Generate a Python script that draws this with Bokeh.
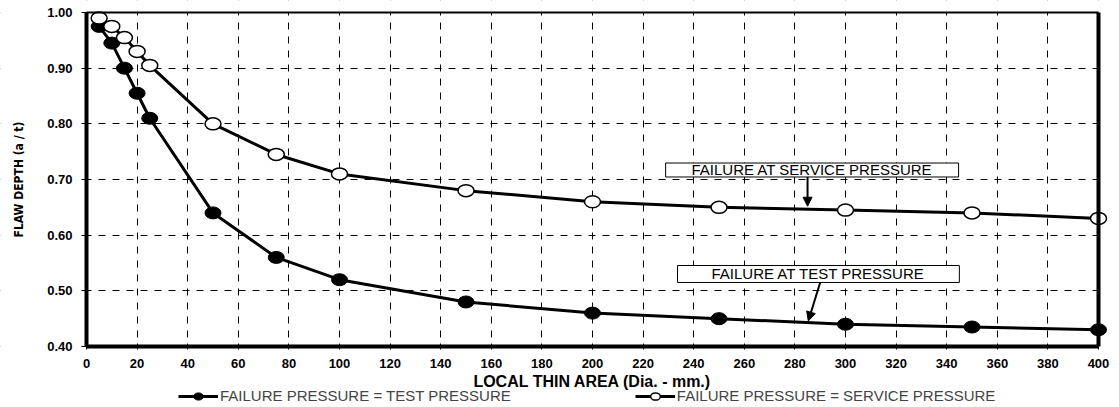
import math
from bokeh.plotting import figure
from bokeh.models import (Legend, LegendItem, BoxAnnotation, Label, Arrow, NormalHead,
                          FixedTicker, NumeralTickFormatter, Range1d, LinearAxis)
from bokeh.embed import file_html
from bokeh.resources import INLINE

# ---- data ----
dia = [5, 10, 15, 20, 25, 50, 75, 100, 150, 200, 250, 300, 350, 400]
test_depth = [0.975, 0.945, 0.90, 0.855, 0.81, 0.64, 0.56, 0.52, 0.48, 0.46, 0.45, 0.44, 0.435, 0.43]
service_depth = [0.99, 0.975, 0.955, 0.93, 0.905, 0.80, 0.745, 0.71, 0.68, 0.66, 0.65, 0.645, 0.64, 0.63]
x_ticks = list(range(0, 401, 20))
y_ticks = [0.40, 0.50, 0.60, 0.70, 0.80, 0.90, 1.00]
legend_labels = ["FAILURE PRESSURE = TEST PRESSURE", "FAILURE PRESSURE = SERVICE PRESSURE"]
note_service = "FAILURE AT SERVICE PRESSURE"
note_test = "FAILURE AT TEST PRESSURE"
x_title = "LOCAL THIN AREA (Dia. - mm.)"
y_title = "FLAW DEPTH (a / t)"

FONT = "Liberation Sans"
NARROW = "DejaVu Sans Condensed, Liberation Sans, sans-serif"

# ---- layout: the frame fills the canvas; the plotting box sits inside it ----
W, H = 1119, 407
PX_L, PX_R, PX_T, PX_B = 86, 1098, 12, 346      # pixel edges of the plotting box
X0, X1, Y0, Y1 = 0, 400, 0.40, 1.00
sx = (PX_R - PX_L) / (X1 - X0)
sy = (PX_B - PX_T) / (Y1 - Y0)
xr = Range1d(X0 - PX_L / sx, X1 + (W - PX_R) / sx)
yr = Range1d(Y0 - (H - PX_B) / sy, Y1 + PX_T / sy)

p = figure(frame_width=W, frame_height=H, x_range=xr, y_range=yr,
           output_backend="svg", toolbar_location=None,
           x_axis_location=None, y_axis_location=None,
           min_border=0, background_fill_color="white", border_fill_color="white")
p.outline_line_color = None

# grid (only inside the plotting box; white covers hide the rest)
p.xgrid.ticker = FixedTicker(ticks=x_ticks)
p.ygrid.ticker = FixedTicker(ticks=y_ticks)
for g in (p.xgrid, p.ygrid):
    g.grid_line_color = "black"
    g.grid_line_dash = "7 7"
    g.grid_line_width = 1
for kw in (dict(top=Y0), dict(bottom=Y1), dict(right=X0), dict(left=X1)):
    p.add_layout(BoxAnnotation(fill_color="white", fill_alpha=1, line_color=None,
                               level="underlay", **kw))

def style(ax):
    ax.axis_line_color = "black"
    ax.major_tick_line_color = "black"
    ax.major_tick_line_width = 1
    ax.minor_tick_line_color = None
    ax.major_label_text_font = FONT
    ax.major_label_text_font_style = "bold"
    ax.major_label_text_font_size = "13px"
    ax.major_label_text_color = "black"

xaxis = LinearAxis(fixed_location=Y0, bounds=(X0, X1), ticker=FixedTicker(ticks=x_ticks),
                   axis_line_width=4, major_tick_in=3, major_tick_out=3, major_label_standoff=9)
style(xaxis)
p.add_layout(xaxis, "below")

yaxis = LinearAxis(fixed_location=X0, bounds=(Y0, Y1), ticker=FixedTicker(ticks=y_ticks),
                   formatter=NumeralTickFormatter(format="0.00"),
                   axis_line_width=4, major_tick_in=0, major_tick_out=5, major_label_standoff=9)
style(yaxis)
p.add_layout(yaxis, "left")

top = LinearAxis(fixed_location=Y1, bounds=(X0, X1), ticker=FixedTicker(ticks=[]),
                 axis_line_width=2, axis_line_color="black",
                 major_tick_line_color=None, minor_tick_line_color=None,
                 major_label_text_font_size="0px")
p.add_layout(top, "above")
right = LinearAxis(fixed_location=X1, bounds=(Y0, Y1), ticker=FixedTicker(ticks=[]),
                   axis_line_width=4, axis_line_color="black",
                   major_tick_line_color=None, minor_tick_line_color=None,
                   major_label_text_font_size="0px")
p.add_layout(right, "right")

# axis titles
p.add_layout(Label(x=(X0 + X1) / 2, y=Y0 - 35 / sy, text=x_title, text_align="center",
                   text_baseline="middle", text_font=FONT, text_font_style="bold",
                   text_font_size="16px", text_color="black"))
p.add_layout(Label(x=X0 - 68 / sx, y=(Y0 + Y1) / 2, text=y_title, angle=math.pi / 2,
                   text_align="center", text_baseline="middle", text_font=NARROW,
                   text_font_style="bold", text_font_size="12px", text_color="black"))

# series
l1 = p.line(dia, test_depth, line_color="black", line_width=3)
m1 = p.ellipse(dia, test_depth, width=16, height=12, width_units="screen", height_units="screen",
               fill_color="black", line_color="black", line_width=1)
l2 = p.line(dia, service_depth, line_color="black", line_width=3)
m2 = p.ellipse(dia, service_depth, width=16, height=12, width_units="screen", height_units="screen",
               fill_color="white", line_color="black", line_width=1.5)

# annotation boxes
p.add_layout(BoxAnnotation(left=228.9, right=344.7, top=0.7296, bottom=0.7045,
                           fill_color="white", fill_alpha=1, line_color="black", line_alpha=1,
                           line_width=1))
p.add_layout(Label(x=286.8, y=0.7175, text=note_service, text_align="center", text_baseline="middle",
                   text_font=FONT, text_font_size="15px", text_color="black"))
p.add_layout(Arrow(end=NormalHead(size=9, fill_color="black", line_color="black"),
                   x_start=285, y_start=0.7045, x_end=285, y_end=0.652,
                   line_color="black", line_width=2))

p.add_layout(BoxAnnotation(left=233.6, right=345.0, top=0.5455, bottom=0.515,
                           fill_color="white", fill_alpha=1, line_color="black", line_alpha=1,
                           line_width=1))
p.add_layout(Label(x=289.3, y=0.5305, text=note_test, text_align="center", text_baseline="middle",
                   text_font=FONT, text_font_size="15px", text_color="black"))
p.add_layout(Arrow(end=NormalHead(size=9, fill_color="black", line_color="black"),
                   x_start=290, y_start=0.515, x_end=285.3, y_end=0.446,
                   line_color="black", line_width=2))

legend = Legend(items=[LegendItem(label=legend_labels[0], renderers=[l1, m1]),
                       LegendItem(label=legend_labels[1], renderers=[l2, m2])],
                orientation="horizontal", location=(178, 3),
                border_line_color=None, background_fill_alpha=0,
                margin=0, padding=0, spacing=124, glyph_width=40, glyph_height=12,
                label_standoff=2, label_text_font=FONT, label_text_font_size="15px",
                label_height=12)
p.add_layout(legend, "center")

open("out.html", "w").write(file_html(p, INLINE))
